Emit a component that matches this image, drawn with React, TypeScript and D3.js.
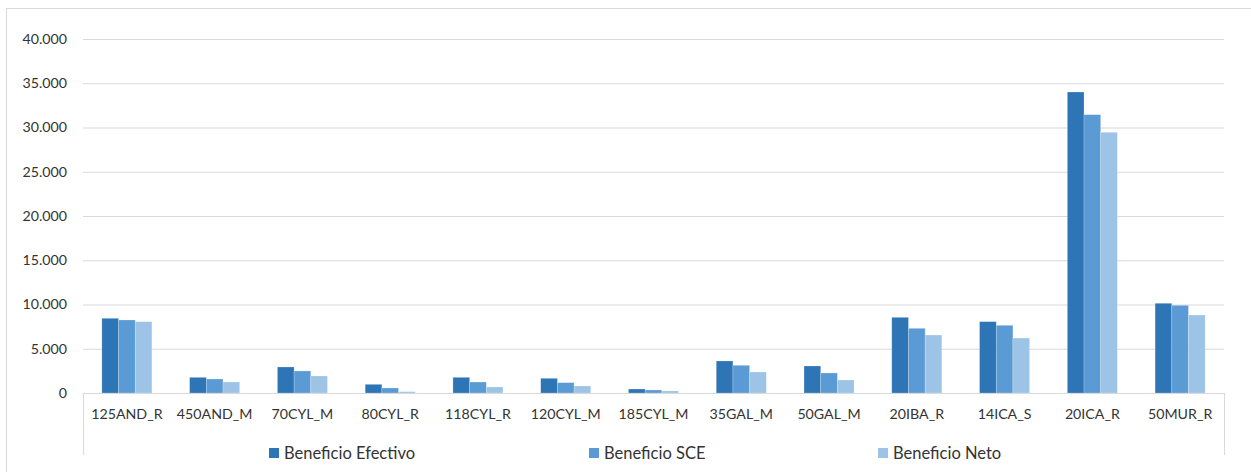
import { useEffect, useRef } from "react";
import * as d3 from "d3";

// ── Data ──────────────────────────────────────────────────────────────────────
const categories = [
  "125AND_R", "450AND_M", "70CYL_M", "80CYL_R", "118CYL_R", "120CYL_M",
  "185CYL_M", "35GAL_M", "50GAL_M", "20IBA_R", "14ICA_S", "20ICA_R", "50MUR_R",
];
const seriesNames = ["Beneficio Efectivo", "Beneficio SCE", "Beneficio Neto"];
const efectivo = [8440, 1770, 2940, 980, 1770, 1660, 450, 3620, 3050, 8550, 8060, 34010, 10140];
const sce      = [8250, 1580, 2490, 565, 1240, 1170, 340, 3130, 2260, 7310, 7650, 31450, 9910];
const neto     = [8060, 1240, 1920, 150, 680, 790, 230, 2370, 1470, 6550, 6210, 29460, 8810];
const yTicks = [0, 5000, 10000, 15000, 20000, 25000, 30000, 35000, 40000];

const COLORS = ["#2E75B6", "#5B9BD5", "#9DC3E6"];
const FONT = "Lato, 'Open Sans', sans-serif";
const TEXT = "#333333";

const W = 1251, H = 472;
const M = { left: 83, right: 27, top: 39, bottom: 79 };

const locale = d3.formatLocale({ decimal: ",", thousands: ".", grouping: [3], currency: ["", "€"] });
const fmt = locale.format(",d");

export default function App() {
  const ref = useRef<SVGSVGElement>(null);

  useEffect(() => {
    if (!ref.current) return;
    const svg = d3.select(ref.current);
    svg.selectAll("*").remove();

    const x0 = d3.scaleBand<string>().domain(categories).range([M.left, W - M.right]).paddingInner(0.43).paddingOuter(0.215);
    const x1 = d3.scaleBand<number>().domain([0, 1, 2]).range([0, x0.bandwidth()]);
    const y = d3.scaleLinear().domain([0, 40000]).range([H - M.bottom, M.top]);

    // outer border
    svg.append("rect")
      .attr("x", 6.5).attr("y", 8.5).attr("width", W).attr("height", H)
      .attr("fill", "none").attr("stroke", "#d9d9d9");

    // gridlines
    svg.append("g")
      .attr("transform", `translate(${M.left},0)`)
      .call(d3.axisLeft(y).tickValues(yTicks).tickSize(-(W - M.left - M.right)).tickFormat(() => ""))
      .call((g) => g.select(".domain").remove())
      .call((g) => g.selectAll("line").attr("stroke", "#d9d9d9"));

    // y labels
    svg.append("g")
      .selectAll("text")
      .data(yTicks)
      .join("text")
      .attr("x", 67)
      .attr("y", (d) => y(d))
      .attr("dy", "0.35em")
      .attr("text-anchor", "end")
      .attr("font-family", FONT)
      .attr("font-size", 14.2)
      .attr("fill", TEXT)
      .text((d) => fmt(d));

    // bars
    const all = [efectivo, sce, neto];
    all.forEach((vals, si) => {
      svg.append("g")
        .selectAll("rect")
        .data(vals)
        .join("rect")
        .attr("x", (_, i) => (x0(categories[i]) ?? 0) + (x1(si) ?? 0))
        .attr("y", (d) => y(d))
        .attr("width", x1.bandwidth())
        .attr("height", (d) => y(0) - y(d))
        .attr("fill", COLORS[si])
        .attr("stroke", "#ffffff")
        .attr("stroke-opacity", 0.35)
        .attr("stroke-width", 0.6);
    });

    // category axis
    const base = y(0);
    svg.append("line")
      .attr("x1", M.left).attr("x2", W - M.right)
      .attr("y1", base + 0.5).attr("y2", base + 0.5)
      .attr("stroke", "#d9d9d9");
    [M.left, W - M.right].forEach((xx) => {
      svg.append("line")
        .attr("x1", xx + 0.5).attr("x2", xx + 0.5)
        .attr("y1", base).attr("y2", 455)
        .attr("stroke", "#d9d9d9");
    });

    svg.append("g")
      .selectAll("text")
      .data(categories)
      .join("text")
      .attr("x", (d) => (x0(d) ?? 0) + x0.bandwidth() / 2)
      .attr("y", 414)
      .attr("dy", "0.35em")
      .attr("text-anchor", "middle")
      .attr("font-family", FONT)
      .attr("font-size", 14.2)
      .attr("fill", TEXT)
      .text((d) => d);

    // legend
    const legendX = [269, 589, 878];
    seriesNames.forEach((name, i) => {
      const lg = svg.append("g").attr("transform", `translate(${legendX[i]},448)`);
      lg.append("rect").attr("width", 10).attr("height", 10).attr("fill", COLORS[i]);
      lg.append("text")
        .attr("x", 15).attr("y", 5).attr("dy", "0.35em")
        .attr("font-family", FONT).attr("font-size", 16.5).attr("fill", TEXT)
        .text(name);
    });
  }, []);

  return (
    <svg
      ref={ref}
      width={W}
      height={H}
      style={{ position: "absolute", left: 0, top: 0, background: "#fff" }}
    />
  );
}
